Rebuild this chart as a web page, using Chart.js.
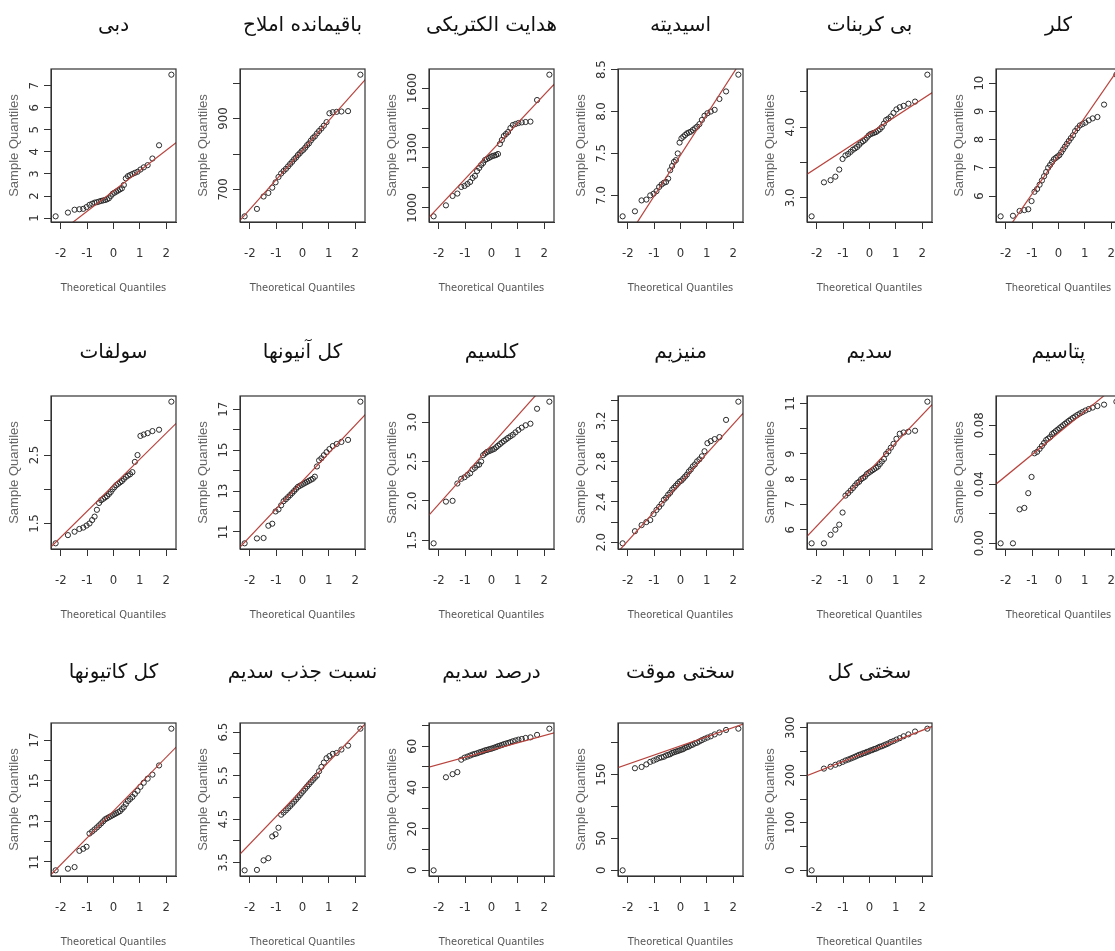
<!DOCTYPE html>
<html>
<head>
<meta charset="utf-8">
<script src="https://cdn.jsdelivr.net/npm/chart.js@4.4.1/dist/chart.umd.min.js"></script>
<style>
html,body{margin:0;padding:0;background:#fff;overflow:hidden;width:1115px;height:951px;}
#wrap{position:relative;width:1115px;height:951px;overflow:hidden;background:#fff;}
#wrap canvas{position:absolute;}
</style>
</head>
<body>
<div id="wrap"></div>
<script>
// ---- Data ----
const titles = [
  'دبی', 'باقیمانده املاح', 'هدایت الکتریکی', 'اسیدیته', 'بی کربنات', 'کلر',
  'سولفات', 'کل آنیونها', 'کلسیم', 'منیزیم', 'سدیم', 'پتاسیم',
  'کل کاتیونها', 'نسبت جذب سدیم', 'درصد سدیم', 'سختی موقت', 'سختی کل'
];

// theoretical normal quantiles (36 samples)
const theoreticalQ = [-2.200,-1.732,-1.480,-1.298,-1.150,-1.024,-0.913,-0.812,-0.719,-0.631,-0.549,-0.469,
  -0.393,-0.319,-0.246,-0.175,-0.105,-0.035,0.035,0.105,0.175,0.246,0.319,0.393,
  0.469,0.549,0.631,0.719,0.812,0.913,1.024,1.150,1.298,1.480,1.732,2.200];

const xTicks = [-2, -1, 0, 1, 2];
const xTickLabels = ['-2', '-1', '0', '1', '2'];

const flowRate = [1.08,1.25,1.38,1.40,1.42,1.50,1.60,1.65,1.70,1.72,1.75,1.78,1.80,1.82,1.85,1.90,2.00,2.10,2.15,2.20,2.25,2.30,2.35,2.50,2.80,2.90,2.95,3.00,3.05,3.10,3.20,3.30,3.40,3.70,4.30,7.50];
const tds = [624,645,680,690,705,720,735,745,752,758,765,772,778,785,790,797,802,808,812,818,825,830,838,845,850,858,865,872,880,890,915,918,919,920,921,1024];
const ec = [958,1013,1060,1072,1105,1110,1120,1130,1150,1160,1185,1200,1215,1225,1240,1245,1250,1255,1260,1262,1265,1270,1320,1340,1360,1370,1380,1400,1415,1420,1425,1428,1430,1432,1540,1667];
const ph = [6.75,6.81,6.94,6.95,7.00,7.02,7.05,7.10,7.13,7.15,7.16,7.20,7.30,7.35,7.40,7.42,7.50,7.63,7.68,7.70,7.72,7.74,7.75,7.76,7.78,7.80,7.82,7.85,7.90,7.95,7.98,8.00,8.02,8.15,8.24,8.44];
const bicarbonate = [2.74,3.22,3.25,3.30,3.40,3.55,3.60,3.62,3.65,3.68,3.70,3.72,3.75,3.78,3.80,3.82,3.85,3.88,3.90,3.91,3.92,3.93,3.95,3.97,4.00,4.05,4.10,4.12,4.15,4.20,4.25,4.28,4.30,4.33,4.36,4.74];
const chloride = [5.28,5.30,5.47,5.50,5.53,5.82,6.15,6.25,6.40,6.55,6.70,6.85,7.00,7.10,7.20,7.30,7.35,7.40,7.45,7.55,7.65,7.75,7.85,7.95,8.05,8.15,8.30,8.40,8.50,8.55,8.60,8.68,8.75,8.80,9.24,10.30];
const sulfate = [1.21,1.33,1.38,1.42,1.44,1.47,1.50,1.55,1.60,1.70,1.80,1.84,1.86,1.88,1.90,1.93,1.96,2.00,2.03,2.06,2.08,2.10,2.12,2.15,2.18,2.20,2.22,2.25,2.40,2.50,2.78,2.80,2.82,2.85,2.87,3.28];
const totalAnions = [10.44,10.68,10.70,11.30,11.40,12.00,12.10,12.30,12.50,12.60,12.70,12.80,12.90,13.00,13.10,13.20,13.25,13.30,13.35,13.40,13.45,13.50,13.55,13.60,13.70,14.20,14.50,14.60,14.75,14.90,15.05,15.20,15.30,15.40,15.50,17.37];
const calcium = [1.46,1.99,2.00,2.22,2.28,2.30,2.33,2.35,2.40,2.42,2.45,2.46,2.50,2.58,2.60,2.62,2.63,2.64,2.65,2.66,2.68,2.70,2.72,2.74,2.76,2.78,2.80,2.82,2.84,2.87,2.90,2.93,2.96,2.98,3.17,3.26];
const magnesium = [1.99,2.11,2.17,2.20,2.22,2.28,2.32,2.35,2.38,2.42,2.44,2.47,2.49,2.52,2.54,2.56,2.58,2.60,2.61,2.63,2.65,2.67,2.70,2.72,2.75,2.77,2.80,2.82,2.85,2.90,2.98,3.00,3.02,3.04,3.21,3.39];
const sodium = [5.46,5.46,5.80,6.00,6.20,6.68,7.35,7.45,7.55,7.65,7.75,7.85,7.90,8.00,8.05,8.10,8.20,8.25,8.30,8.35,8.40,8.45,8.50,8.60,8.70,8.80,9.00,9.10,9.25,9.40,9.60,9.80,9.85,9.88,9.92,11.07];
const potassium = [0.000,0.000,0.023,0.024,0.034,0.045,0.061,0.062,0.064,0.066,0.068,0.070,0.071,0.072,0.074,0.075,0.076,0.077,0.078,0.079,0.080,0.081,0.082,0.083,0.084,0.085,0.086,0.087,0.088,0.089,0.090,0.091,0.092,0.093,0.094,0.096];
const totalCations = [10.59,10.67,10.75,11.55,11.65,11.75,12.40,12.50,12.60,12.70,12.80,12.90,13.00,13.10,13.15,13.20,13.25,13.30,13.35,13.40,13.45,13.50,13.60,13.70,13.85,14.00,14.10,14.20,14.35,14.50,14.70,14.90,15.10,15.30,15.75,17.56];
const sar = [3.32,3.33,3.55,3.60,4.10,4.15,4.30,4.60,4.65,4.70,4.75,4.80,4.85,4.90,4.95,5.00,5.05,5.10,5.15,5.20,5.25,5.30,5.35,5.40,5.45,5.50,5.60,5.70,5.80,5.90,5.95,6.00,6.02,6.10,6.19,6.58];
const sodiumPercent = [0,45.0,46.5,47.5,53.5,54.5,55.0,55.5,56.0,56.3,56.6,57.0,57.3,57.6,58.0,58.2,58.5,58.7,59.0,59.3,59.6,60.0,60.3,60.6,61.0,61.3,61.6,62.0,62.4,62.8,63.2,63.5,64.0,64.3,65.5,68.5];
const tempHardness = [0,160,162,166,170,172,174,176,177,178,180,181,182,184,185,186,187,188,189,190,192,193,194,196,197,199,200,202,204,206,208,210,213,216,220,222];
const totalHardness = [0,214,218,222,225,228,231,233,235,237,239,241,243,244,246,247,249,250,252,253,255,256,258,260,261,263,265,267,270,272,275,278,282,286,292,298];

// reference (qq) lines: intercept and slope
const lineIntercepts = [2.23, 811, 1286, 7.48, 3.91, 7.43, 2.06, 13.49, 2.71, 2.59, 8.34, 0.0748, 13.51, 5.19, 58.2, 195, 251];
const lineSlopes     = [0.918, 83.4, 140, 0.487, 0.242, 1.35, 0.379, 1.36, 0.375, 0.288, 1.098, 0.0146, 1.32, 0.63, 3.5, 14.3, 21.7];

// y ticks and their labels ('' = unlabeled tick)
const yTicks = [
  [1,2,3,4,5,6,7],
  [700,800,900,1000],
  [1000,1100,1200,1300,1400,1500,1600],
  [7.0,7.5,8.0,8.5],
  [3.0,3.5,4.0,4.5],
  [6,7,8,9,10],
  [1.5,2.0,2.5,3.0],
  [11,12,13,14,15,16,17],
  [1.5,2.0,2.5,3.0],
  [2.0,2.2,2.4,2.6,2.8,3.0,3.2,3.4],
  [6,7,8,9,10,11],
  [0,0.02,0.04,0.06,0.08],
  [11,12,13,14,15,16,17],
  [3.5,4.0,4.5,5.0,5.5,6.0,6.5],
  [0,10,20,30,40,50,60,70],
  [0,50,100,150,200],
  [0,50,100,150,200,250,300]
];
const yTickLabels = [
  ['1','2','3','4','5','6','7'],
  ['700','','900',''],
  ['1000','','','1300','','','1600'],
  ['7.0','7.5','8.0','8.5'],
  ['3.0','','4.0',''],
  ['6','7','8','9','10'],
  ['1.5','','2.5',''],
  ['11','','13','','15','','17'],
  ['1.5','2.0','2.5','3.0'],
  ['2.0','','2.4','','2.8','','3.2',''],
  ['6','7','8','9','','11'],
  ['0.00','','0.04','','0.08'],
  ['11','','13','','15','','17'],
  ['3.5','','4.5','','5.5','','6.5'],
  ['0','','20','','40','','60',''],
  ['0','50','','150',''],
  ['0','','100','','200','','300']
];

const series = [flowRate, tds, ec, ph, bicarbonate, chloride, sulfate, totalAnions, calcium,
  magnesium, sodium, potassium, totalCations, sar, sodiumPercent, tempHardness, totalHardness];

// ---- Layout / style ----
const narrowFamily = "'Liberation Sans Narrow', 'DejaVu Sans Condensed', 'Liberation Sans', Arial, sans-serif";
const sansFamily = "'Liberation Sans', Arial, sans-serif";
const titleFamily = "'DejaVu Sans', 'Noto Sans', sans-serif";
const tickFontSize = 13;
const CANVAS_W = 227, CANVAS_H = 302, PITCH_X = 189;
const canvasTops = [0, 327, 654];
const titlePads = [{top: 14, bottom: 31}, {top: 14, bottom: 31}, {top: 7, bottom: 38}];

const measureCtx = document.createElement('canvas').getContext('2d');
function textWidth(str, font) { measureCtx.font = font; return measureCtx.measureText(str).width; }

const boxPlugin = {
  id: 'rbox',
  afterDatasetsDraw(chart) {
    const {ctx, chartArea: {left, top, right, bottom}} = chart;
    ctx.save();
    ctx.strokeStyle = '#333';
    ctx.lineWidth = 1.2;
    ctx.strokeRect(left, top, right - left, bottom - top);
    ctx.restore();
  }
};

const wrap = document.getElementById('wrap');

series.forEach((ys, k) => {
  const row = Math.floor(k / 6), col = k % 6;
  const canvas = document.createElement('canvas');
  canvas.width = CANVAS_W; canvas.height = CANVAS_H;
  canvas.style.left = (col * PITCH_X) + 'px';
  canvas.style.top = canvasTops[row] + 'px';
  wrap.appendChild(canvas);

  const lo = Math.min(...ys), hi = Math.max(...ys), ext = (hi - lo) * 0.04;
  const xlo = theoreticalQ[0], xhi = theoreticalQ[theoreticalQ.length - 1], xext = (xhi - xlo) * 0.04;
  const pts = ys.map((v, i) => ({x: theoreticalQ[i], y: v}));
  const a = lineIntercepts[k], b = lineSlopes[k];
  const linePts = [-3, 3].map(x => ({x: x, y: a + b * x}));

  const tickFontStr = tickFontSize + 'px ' + narrowFamily;
  const widest = Math.max(...yTickLabels[k].map(s => textWidth(s, tickFontStr)));
  const labels = yTickLabels[k];
  const ticksY = yTicks[k];

  new Chart(canvas, {
    type: 'scatter',
    data: {
      datasets: [
        {
          type: 'line', data: linePts, borderColor: '#b8433d', borderWidth: 1.2,
          pointRadius: 0, fill: false, tension: 0
        },
        {
          data: pts, pointStyle: 'circle', pointRadius: 2.6, pointBorderWidth: 1,
          borderColor: '#2b2b2b', backgroundColor: 'rgba(0,0,0,0)', showLine: false
        }
      ]
    },
    options: {
      responsive: false,
      animation: false,
      events: [],
      layout: {padding: 0},
      plugins: {
        legend: {display: false},
        tooltip: {enabled: false},
        title: {
          display: true, text: titles[k], color: '#111',
          font: {family: titleFamily, size: 20, weight: 'normal', lineHeight: 1.2},
          padding: titlePads[row]
        }
      },
      scales: {
        x: {
          type: 'linear', position: 'bottom',
          min: xlo - xext, max: xhi + xext,
          afterBuildTicks: s => { s.ticks = xTicks.map(v => ({value: v})); },
          afterFit: s => { s.height = 80; },
          ticks: {
            callback: (v, i) => xTickLabels[i],
            font: {family: narrowFamily, size: tickFontSize}, color: '#333',
            padding: 17, minRotation: 0, maxRotation: 0, autoSkip: false
          },
          grid: {display: true, drawOnChartArea: false, drawTicks: true, tickLength: 7, color: '#333', lineWidth: 1},
          border: {display: true, color: '#333'},
          title: {
            display: true, text: 'Theoretical Quantiles', color: '#555',
            font: {family: narrowFamily, size: 11}, padding: {top: 0, bottom: 7}
          }
        },
        y: {
          type: 'linear', position: 'left',
          min: lo - ext, max: hi + ext,
          afterBuildTicks: s => { s.ticks = ticksY.map(v => ({value: v})); },
          afterFit: s => { s.width = 51; },
          ticks: {
            callback: (v, i) => labels[i],
            font: {family: narrowFamily, size: tickFontSize}, color: '#333',
            minRotation: 90, maxRotation: 90, crossAlign: 'center',
            padding: 9 - widest / 2, autoSkip: false
          },
          grid: {display: true, drawOnChartArea: false, drawTicks: true, tickLength: 7, color: '#333', lineWidth: 1},
          border: {display: true, color: '#333'},
          title: {
            display: true, text: 'Sample Quantiles', color: '#666',
            font: {family: sansFamily, size: 13}, padding: {top: 7, bottom: 0}
          }
        },
        yRight: {
          type: 'linear', position: 'right', display: true,
          afterFit: s => { s.width = 51; },
          ticks: {display: false},
          grid: {display: false},
          border: {display: false}
        }
      }
    },
    plugins: [boxPlugin]
  });
});
</script>
</body>
</html>
